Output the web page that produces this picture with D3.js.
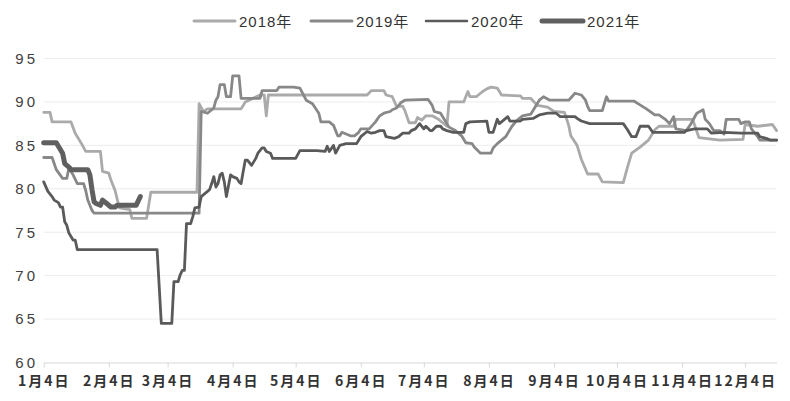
<!DOCTYPE html>
<html><head><meta charset="utf-8">
<script src="https://cdn.jsdelivr.net/npm/d3@7"></script>
<style>
html,body{margin:0;padding:0;background:#fff;}
svg{display:block;}
</style></head>
<body>
<svg id="chart" width="790" height="401"></svg>
<script>
const seriesNames = ["2018年","2019年","2020年","2021年"];
const yTicks = [60,65,70,75,80,85,90,95];
const xTickMonths = [1,2,3,4,5,6,7,8,9,10,11,12];

const s2018 = [["01-04",88.8],["01-07",88.8],["01-08",87.7],["01-17",87.7],["01-19",86.4],["01-22",85.2],["01-24",84.3],["01-31",84.3],["02-01",82.0],["02-04",81.8],["02-05",81.0],["02-07",79.8],["02-09",77.8],["02-14",77.6],["02-15",76.6],["02-22",76.6],["02-24",79.6],["03-18",79.6],["03-19",89.8],["03-21",88.9],["03-23",89.2],["04-08",89.2],["04-10",90.0],["04-17",90.8],["04-19",90.8],["04-20",88.4],["04-21",90.8],["06-07",90.8],["06-09",91.3],["06-15",91.3],["06-16",90.8],["06-19",90.6],["06-21",89.5],["06-24",89.5],["06-25",89.0],["06-27",87.6],["06-30",87.6],["07-01",88.2],["07-03",87.9],["07-05",88.4],["07-08",88.4],["07-11",88.0],["07-13",87.6],["07-15",87.2],["07-16",90.0],["07-23",90.0],["07-25",91.2],["07-26",90.6],["07-29",90.6],["08-01",91.2],["08-03",91.5],["08-05",91.7],["08-08",91.6],["08-10",90.8],["08-19",90.7],["08-20",90.4],["08-24",90.4],["08-27",89.6],["09-01",89.4],["09-04",88.9],["09-09",88.8],["09-11",87.3],["09-12",86.1],["09-15",85.0],["09-17",83.4],["09-20",81.7],["09-25",81.7],["09-27",80.8],["10-07",80.7],["10-09",82.5],["10-11",84.1],["10-15",84.8],["10-19",85.6],["10-22",86.8],["10-24",87.2],["10-31",87.2],["11-01",88.0],["11-09",88.0],["11-12",85.9],["11-22",85.6],["12-03",85.7],["12-04",87.4],["12-10",87.2],["12-17",87.4],["12-19",86.7]];

const s2019 = [["01-04",83.6],["01-08",83.6],["01-10",82.2],["01-13",81.2],["01-15",81.2],["01-16",82.4],["01-18",81.6],["01-20",80.6],["01-23",80.6],["01-24",79.8],["01-25",78.7],["01-27",77.5],["01-28",77.2],["03-19",77.2],["03-20",88.9],["03-23",88.7],["03-26",89.3],["03-27",90.2],["03-28",90.6],["03-29",92.0],["03-31",92.0],["04-01",90.6],["04-03",90.6],["04-04",93.0],["04-07",93.0],["04-08",90.4],["04-17",90.4],["04-18",91.3],["04-25",91.3],["04-26",91.7],["05-03",91.7],["05-06",91.6],["05-09",90.2],["05-12",89.8],["05-15",88.7],["05-16",87.7],["05-20",87.7],["05-22",87.3],["05-24",86.1],["05-25",86.1],["05-26",86.5],["05-30",86.1],["06-01",86.1],["06-03",86.5],["06-04",86.9],["06-08",86.9],["06-11",87.7],["06-13",88.4],["06-15",88.7],["06-18",88.9],["06-19",89.1],["06-21",89.3],["06-23",89.9],["06-25",90.2],["07-06",90.3],["07-08",89.6],["07-09",88.9],["07-12",88.7],["07-14",87.9],["07-16",87.1],["07-19",86.7],["07-22",86.1],["07-24",85.3],["07-27",85.2],["07-28",84.8],["07-31",84.1],["08-05",84.1],["08-06",84.7],["08-08",85.2],["08-12",86.0],["08-15",87.2],["08-17",87.8],["08-20",88.4],["08-24",88.6],["08-28",90.2],["08-30",90.6],["09-02",90.2],["09-11",90.2],["09-14",91.0],["09-17",90.8],["09-19",90.2],["09-20",89.5],["09-21",89.0],["09-27",89.0],["09-29",90.6],["09-30",90.1],["10-12",90.1],["10-14",89.8],["10-18",89.2],["10-22",88.5],["10-24",88.5],["10-27",88.0],["10-29",87.5],["10-31",88.3],["11-01",86.9],["11-06",86.7],["11-08",87.4],["11-11",88.7],["11-14",89.1],["11-15",88.0],["11-17",87.5],["11-19",86.7],["11-22",86.7],["11-24",86.3],["11-25",88.0],["12-01",88.0],["12-02",87.5],["12-04",87.7],["12-06",87.7],["12-07",86.9],["12-09",86.3],["12-10",86.0],["12-11",85.6],["12-19",85.6]];

const s2020 = [["01-04",80.8],["01-06",79.7],["01-08",79.1],["01-09",78.7],["01-11",78.4],["01-12",77.9],["01-13",77.9],["01-14",76.2],["01-15",75.8],["01-16",74.9],["01-18",74.1],["01-19",74.1],["01-20",73.0],["02-27",73.0],["03-01",64.5],["03-06",64.5],["03-07",69.3],["03-09",69.3],["03-10",70.1],["03-11",70.6],["03-12",70.6],["03-13",76.0],["03-15",76.0],["03-16",76.8],["03-17",77.8],["03-19",77.9],["03-20",79.1],["03-21",79.3],["03-22",79.5],["03-24",79.9],["03-25",80.6],["03-26",81.4],["03-27",80.2],["03-28",80.6],["03-29",81.6],["03-30",81.8],["03-31",80.8],["04-01",79.1],["04-03",81.6],["04-04",81.4],["04-06",81.2],["04-07",80.8],["04-08",80.6],["04-09",82.0],["04-10",83.3],["04-11",83.3],["04-13",82.7],["04-14",83.1],["04-15",83.5],["04-16",84.1],["04-18",84.7],["04-19",84.7],["04-20",84.3],["04-22",84.1],["04-23",83.5],["05-04",83.5],["05-06",84.4],["05-14",84.4],["05-18",84.3],["05-19",84.9],["05-20",84.3],["05-22",85.0],["05-23",84.1],["05-25",85.0],["05-28",85.2],["06-02",85.2],["06-04",86.0],["06-07",86.6],["06-09",86.4],["06-11",86.5],["06-13",86.7],["06-15",86.7],["06-16",86.0],["06-20",85.8],["06-22",86.0],["06-24",86.4],["06-27",86.4],["06-28",86.7],["06-30",86.9],["07-02",87.5],["07-04",86.9],["07-05",87.2],["07-07",86.7],["07-08",86.7],["07-10",87.2],["07-12",87.2],["07-13",86.9],["07-15",86.7],["07-18",86.5],["07-23",86.5],["07-24",87.5],["07-26",87.7],["08-03",87.8],["08-04",86.5],["08-06",86.5],["08-08",88.0],["08-09",87.5],["08-13",88.3],["08-14",87.8],["08-19",87.8],["08-20",88.0],["08-25",88.1],["08-28",88.5],["09-01",88.7],["09-05",88.7],["09-06",88.5],["09-07",88.3],["09-14",88.3],["09-15",88.1],["09-17",87.8],["09-21",87.5],["10-07",87.5],["10-09",86.8],["10-11",86.0],["10-13",86.0],["10-15",87.2],["10-19",87.2],["10-21",86.5],["11-05",86.5],["11-06",86.7],["11-10",86.9],["11-16",86.9],["11-18",86.4],["11-24",86.5],["12-02",86.4],["12-10",86.4],["12-11",86.0],["12-14",85.8],["12-16",85.6],["12-19",85.6]];

const s2021 = [["01-04",85.3],["01-10",85.3],["01-11",84.9],["01-13",84.1],["01-14",82.9],["01-16",82.5],["01-17",82.2],["01-25",82.2],["01-26",81.6],["01-27",79.9],["01-28",78.5],["01-29",78.3],["01-31",78.1],["02-01",78.7],["02-03",78.3],["02-05",77.9],["02-07",77.9],["02-08",78.1],["02-17",78.1],["02-19",79.1]];

const seriesData = [s2018, s2019, s2020, s2021];
const colors = ["#aaaaaa","#888888","#5a5a5a","#606060"];
const widths = [2.8, 2.8, 2.8, 5];
const legendWidths = [3, 3, 2.5, 5];

const parse = s => { const [m,d] = s.split("-").map(Number); return new Date(2021, m-1, d); };

const svg = d3.select("#chart");
const x = d3.scaleTime().domain([new Date(2021,0,4), new Date(2021,11,19)]).range([43.7, 776.6]);
const y = d3.scaleLinear().domain([60,95]).range([362.5, 58.5]);

// grid
svg.append("g").selectAll("line").data(yTicks.filter(v=>v>60)).join("line")
  .attr("x1",43.7).attr("x2",776.6)
  .attr("y1",d=>y(d)).attr("y2",d=>y(d))
  .attr("stroke","#ececec").attr("stroke-width",1);

// x axis
const tickDates = xTickMonths.map(m=>new Date(2021,m-1,4));
const xAxis = d3.axisBottom(x).tickValues(tickDates).tickSize(5).tickSizeOuter(0)
  .tickFormat(d=>`${d.getMonth()+1}月${d.getDate()}日`);
const gx = svg.append("g").attr("transform","translate(0,362.5)").call(xAxis);
gx.select(".domain").attr("stroke","#d9d9d9").attr("stroke-width",1);
gx.selectAll(".tick line").attr("stroke","#d9d9d9");
gx.selectAll(".tick text").attr("fill","#333").attr("y",14)
  .style("font-family","'Noto Sans CJK SC', sans-serif").style("font-size","14px")
  .style("font-weight","bold").style("letter-spacing","2px");

// y axis labels
const yAxis = d3.axisLeft(y).tickValues(yTicks).tickSize(0).tickPadding(0);
const gy = svg.append("g").attr("transform","translate(38,0)").call(yAxis);
gy.select(".domain").remove();
gy.selectAll(".tick text").attr("fill","#404040")
  .style("font-family","'Liberation Sans', Arial, sans-serif").style("font-size","15px")
  .style("letter-spacing","3px");

// lines
const line = d3.line().x(d=>x(parse(d[0]))).y(d=>y(d[1])).curve(d3.curveLinear);
svg.append("g").selectAll("path").data(seriesData).join("path")
  .attr("d", line).attr("fill","none")
  .attr("stroke",(d,i)=>colors[i]).attr("stroke-width",(d,i)=>widths[i])
  .attr("stroke-linejoin","round").attr("stroke-linecap","round");

// legend
const legendX = [194, 311, 426, 542];
const lg = svg.append("g").selectAll("g").data(seriesNames).join("g")
  .attr("transform",(d,i)=>`translate(${legendX[i]},21)`);
lg.append("line").attr("x1",0).attr("x2",41).attr("y1",0).attr("y2",0)
  .attr("stroke",(d,i)=>colors[i]).attr("stroke-width",(d,i)=>legendWidths[i]).attr("stroke-linecap","round");
lg.append("text").attr("x",45).attr("y",5.5).text(d=>d)
  .attr("fill","#333")
  .style("font-family","'Liberation Sans', 'Noto Sans CJK SC', sans-serif").style("font-size","15px")
  .style("letter-spacing","1px");
</script>
</body></html>
